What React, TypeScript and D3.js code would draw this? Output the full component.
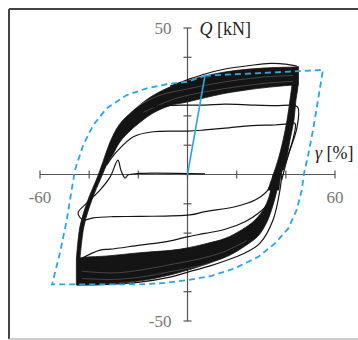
import React from 'react';
import * as d3 from 'd3';

type P = [number, number];

// axis ticks
const xTickValues = [-60, -40, -20, 0, 20, 40, 60];
const yTickValues = [-50, -40, -30, -20, -10, 0, 10, 20, 30, 40, 50];
const xTickLabels: [number, string][] = [[-60, '-60'], [60, '60']];
const yTickLabels: [number, string][] = [[50, '50'], [-50, '-50']];

// blue envelope (γ %, Q kN)
const virginLine: P[] = [[0, 0], [7.1, 33.7]];
const envelope: P[] = [
  [7.1, 33.7], [55.1, 35.7], [53.2, 26.0], [51.2, 15.8], [49.1, 6.7], [47.4, 0.4],
  [46.5, -5.3], [44.4, -12.1], [41.0, -18.4], [35.6, -23.5], [28.8, -28.1], [19.3, -32.0],
  [9.8, -34.6], [0.3, -36.0], [-9.2, -37.0], [-19.3, -37.5], [-55.1, -37.5], [-51.9, -26.8],
  [-49.1, -15.5], [-45.8, 1.5], [-42.4, 10.1], [-38.3, 16.9], [-32.9, 22.6], [-24.7, 27.1],
  [-16.6, 29.4], [-8.5, 30.8], [0.3, 31.7], [7.1, 33.7],
];

// dense band of loading branches (outer edge, inner edge)
const upperBandOuter: P[] = [
  [-45.2, -29.2], [-43.7, -17.6], [-40.5, -8.7], [-36.8, -1.2], [-34.4, 4.3], [-31.5, 11.1],
  [-27.7, 17.1], [-22.4, 21.6], [-15.3, 26.3], [-7.1, 29.9], [0.2, 32.0], [7.1, 33.6],
  [15.3, 35.0], [25.4, 36.0], [35.6, 36.5], [45.0, 36.7],
];
const upperBandInner: P[] = [
  [-43.7, -28.5], [-42.1, -17.6], [-38.9, -8.7], [-35.2, -1.2], [-32.3, 4.3], [-30.3, 6.9],
  [-27.5, 11.1], [-23.0, 15.2], [-19.0, 18.0], [-14.0, 21.0], [-7.1, 23.5], [0.2, 24.8],
  [7.1, 26.2], [15.3, 27.7], [26.1, 29.1], [35.6, 30.0], [42.5, 30.5], [45.0, 30.5],
];
// unloading bundle on the right
const unloadLeft: P[] = [
  [42.5, 30.5], [41.7, 25.4], [40.5, 18.6], [38.9, 11.8], [36.8, 4.9], [34.8, -0.2], [32.7, -5.3],
];
const unloadRight: P[] = [
  [37.2, -5.3], [38.0, -0.2], [40.1, 4.9], [41.7, 11.8], [43.3, 18.6], [44.1, 25.4], [45.0, 30.5], [45.0, 37.0],
];
// dense band of reverse branches
const lowerBandTop: P[] = [
  [34.8, -0.2], [33.6, -6.3], [31.5, -11.0], [27.5, -15.5], [22.0, -18.9], [15.3, -21.8],
  [7.1, -23.7], [-1.0, -25.2], [-5.9, -25.8], [-19.3, -26.7], [-32.7, -27.8], [-43.7, -28.5], [-45.2, -29.2],
];
const lowerBandBottom: P[] = [
  [-45.2, -37.7], [-32.7, -37.3], [-19.3, -36.3], [-7.1, -34.3], [0.2, -32.6], [9.2, -30.2],
  [17.3, -27.5], [23.4, -24.4], [28.7, -21.0], [32.3, -16.2], [34.8, -10.4], [36.4, -5.3], [37.2, -0.5],
];
// light gaps between cycles inside the dense bands
const upperGap1: P[] = [[-24, 21.5], [-12, 26.8], [0, 29.2], [15, 31.6], [30, 33.2], [43, 33.8]];
const upperGap2: P[] = [[-18, 21.2], [-8, 25.0], [0, 27.0], [15, 29.3], [30, 31.0], [43, 31.8]];
const lowerGap1: P[] = [[-43, -33.0], [-30, -33.6], [-19, -32.6], [-6, -30.6], [5, -28.8], [15, -26.3], [24, -22.6]];
const lowerGap2: P[] = [[-43, -35.5], [-30, -35.8], [-19, -35.0], [-6, -33.0], [5, -31.2], [15, -28.8]];

// individual cycles
const outerTopLine: P[] = [
  [-7.1, 30.2], [0.2, 32.4], [7.1, 34.3], [15.3, 36.0], [25.4, 37.2], [33.6, 37.9], [39.7, 37.7], [44.5, 37.0],
];
const outerBottomLine: P[] = [
  [38.4, 0.2], [37.6, -5.3], [34.8, -15.5], [29.5, -23.4], [23.4, -26.8], [18.5, -28.5],
  [9.2, -31.2], [0.2, -33.3], [-7.1, -35.0], [-19.3, -36.7], [-32.7, -37.5], [-45.0, -37.7],
];
const cycleU1: P[] = [
  [-17.3, 22.7], [-9.2, 23.5], [0.2, 23.7], [7.1, 23.7], [15.3, 24.0], [26.1, 23.7], [35.6, 23.5],
  [43.7, 23.5], [45.0, 22.7], [44.5, 15.9], [41.7, 8.4], [38.9, 1.5],
];
const cycleU2: P[] = [
  [-32.9, 3.2], [-28.8, 7.8], [-22.0, 12.9], [-13.9, 14.6], [0.3, 14.8], [7.1, 15.2], [15.3, 15.8],
  [26.1, 16.7], [35.6, 16.9], [39.7, 17.2], [43.7, 17.5], [43.0, 12.4], [41.0, 6.7], [38.3, -1.9],
];
const earlyCycle: P[] = [
  [7.1, 0.2], [-20.5, 0.3], [-24.2, -0.2], [-25.4, -1.2], [-27.1, 1.5], [-28.3, 4.9], [-31.5, -0.9],
  [-35.6, -5.3], [-40.9, -9.7], [-44.5, -13.1], [-42.5, -15.5], [-38.4, -14.8], [-30.3, -14.4],
  [-19.3, -14.3], [1.0, -13.8], [7.1, -12.7], [19.3, -11.0], [27.5, -8.7], [32.7, -5.3], [35.6, -0.2],
];
const cycleL2: P[] = [
  [-43.7, -28.9], [-35.6, -25.8], [-31.5, -25.5], [-19.3, -24.1], [-8.5, -22.9], [-0.2, -21.3],
  [7.1, -20.1], [15.3, -18.7], [23.4, -16.1], [28.8, -13.2], [32.9, -9.8], [35.2, -5.3],
];

const W = 358;
const H = 340;
const BLUE = '#2aa6dc';
const INK = '#141414';
const AXIS = '#555';
const FONT = '"Liberation Serif", "Times New Roman", serif';

export default function App() {
  const x = d3.scaleLinear().domain([-60, 60]).range([40, 335]);
  const y = d3.scaleLinear().domain([-50, 50]).range([321, 28]);
  const line = d3.line<P>().x((d) => x(d[0])).y((d) => y(d[1]));
  const smooth = d3.line<P>().x((d) => x(d[0])).y((d) => y(d[1])).curve(d3.curveCatmullRom.alpha(0.5));

  // band: smooth edge A, straight join, smooth edge B, close
  const band = (a: P[], b: P[]) => {
    const pa = smooth(a) || '';
    const pb = (smooth(b) || '').replace(/^M/, 'L');
    return pa + pb + 'Z';
  };

  const upperBand = band(upperBandOuter, [...upperBandInner].reverse());
  const unloadBand = band(unloadLeft, unloadRight);
  const lowerBand = band(lowerBandTop, lowerBandBottom);

  const x0 = x(0);
  const y0 = y(0);

  return (
    <svg width={W} height={H} style={{ position: 'absolute', left: 0, top: 0, background: '#fff' }}>
      {/* frame */}
      <line x1={9} y1={9} x2={W} y2={9} stroke="#444" strokeWidth={2} />
      <line x1={9} y1={9} x2={9} y2={339} stroke="#444" strokeWidth={2} />
      <line x1={9} y1={339} x2={W} y2={339} stroke="#bbb" strokeWidth={1.5} />

      {/* axes */}
      <g stroke={AXIS} strokeWidth={1.2}>
        <line x1={x(-60)} x2={x(60)} y1={y0} y2={y0} />
        <line x1={x0} x2={x0} y1={y(50)} y2={y(-50)} />
        {xTickValues.map((v) => (
          <line key={'xt' + v} x1={x(v)} x2={x(v)} y1={y0 - 4} y2={y0 + 4} />
        ))}
        {yTickValues.map((v) => (
          <line key={'yt' + v} x1={x0 - 4} x2={x0 + 4} y1={y(v)} y2={y(v)} />
        ))}
      </g>

      {/* hysteresis */}
      <g>
        <path d={upperBand} fill={INK} stroke={INK} strokeWidth={0.8} />
        <path d={unloadBand} fill={INK} stroke={INK} strokeWidth={0.8} />
        <path d={lowerBand} fill={INK} stroke={INK} strokeWidth={0.8} />
        {[upperGap1, upperGap2, lowerGap1, lowerGap2].map((c, i) => (
          <path key={'g' + i} d={smooth(c) || ''} fill="none" stroke="#fff" strokeOpacity={0.35} strokeWidth={0.6} />
        ))}
        {[outerTopLine, outerBottomLine, cycleU1, cycleU2, earlyCycle, cycleL2].map((c, i) => (
          <path key={'c' + i} d={smooth(c) || ''} fill="none" stroke={INK} strokeWidth={1.2} />
        ))}
      </g>

      {/* envelope */}
      <path d={line(virginLine) || ''} fill="none" stroke={BLUE} strokeWidth={1.6} />
      <path d={line(envelope) || ''} fill="none" stroke={BLUE} strokeWidth={1.8} strokeDasharray="6,4" />

      {/* labels */}
      <g fontFamily={FONT} fill="#777" fontSize={17}>
        {xTickLabels.map(([v, t]) => (
          <text key={'xl' + v} x={x(v)} y={y0 + 28} textAnchor="middle">{t}</text>
        ))}
        {yTickLabels.map(([v, t]) => (
          <text key={'yl' + v} x={x0 - 16} y={y(v) + 6} textAnchor="end">{t}</text>
        ))}
      </g>
      <text x={x0 + 12} y={y(50) + 7} fontFamily={FONT} fontSize={18} fill="#222">
        <tspan fontStyle="italic">Q</tspan> [kN]
      </text>
      <text x={315} y={y0 - 16} fontFamily={FONT} fontSize={18} fill="#222">
        <tspan fontStyle="italic">γ</tspan> [%]
      </text>
    </svg>
  );
}
